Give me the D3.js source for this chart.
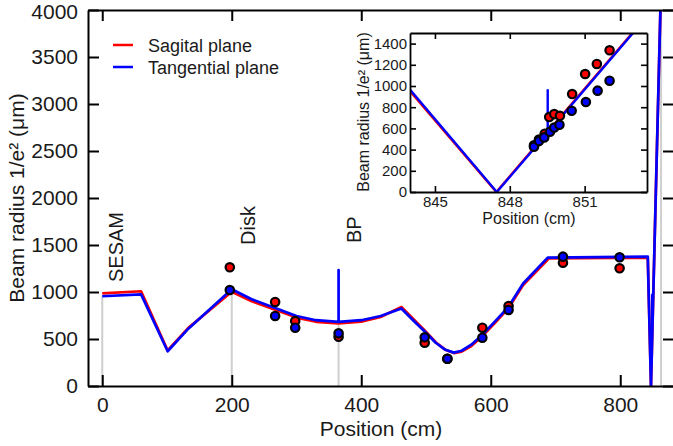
<!DOCTYPE html>
<html><head><meta charset="utf-8">
<script src="https://cdn.jsdelivr.net/npm/d3@7"></script>
<style>
body{margin:0;background:#fff}
text{font-family:"Liberation Sans",Arial,Helvetica,sans-serif;fill:#1a1a1a}
</style>
</head><body>
<svg id="chart" width="673" height="446"></svg>
<script>
// ---------- data ----------
const xTickVals = [0, 200, 400, 600, 800];
const yTickVals = [0, 500, 1000, 1500, 2000, 2500, 3000, 3500, 4000];
const insetXTickVals = [845, 848, 851];
const insetYTickVals = [0, 200, 400, 600, 800, 1000, 1200, 1400];

// Sagittal plane (red) beam radius curve
const sagPos = [0, 60, 101, 133, 200, 230, 267, 300, 330, 365, 400, 430, 462, 480, 498, 515, 530, 543, 555, 570, 587, 607, 627, 650, 690, 842.5, 847.46, 862];
const sagVal = [985, 1008, 378, 618, 1003, 905, 810, 728, 683, 665, 685, 735, 840, 715, 590, 465, 385, 350, 365, 425, 530, 675, 825, 1075, 1358, 1365, 0, 4000];

// Tangential plane (blue) beam radius curve (incl. BP spikes)
const tanPos = [0, 60, 101, 133, 200, 230, 267, 300, 330, 365, 365, 365, 400, 430, 462, 480, 498, 515, 530, 543, 555, 570, 587, 607, 627, 650, 688, 842.5, 847.46, 849.5, 849.5, 849.5, 862];
const tanVal = [955, 975, 370, 610, 1030, 925, 830, 745, 700, 682, 1234, 682, 700, 745, 825, 700, 580, 460, 385, 355, 375, 440, 545, 690, 840, 1090, 1365, 1376, 0, 559, 970, 559, 4000];

// measured points (main)
const ptPos = [197, 267, 298, 365, 498, 533, 587, 627.5, 711.5, 799];
const ptSag = [1263, 894, 691, 525, 461, 290, 620, 851, 1312, 1252];
const ptTan = [1021, 745, 620, 560, 518, 290, 514, 809, 1376, 1369];

// measured points (inset)
const inSagPos = [848.97, 849.17, 849.4, 849.58, 849.78, 850.01, 850.5, 851.02, 851.49, 852.0];
const inSagVal = [440, 495, 550, 707, 735, 719, 924, 1113, 1208, 1337];
const inTanPos = [848.97, 849.17, 849.38, 849.61, 849.78, 849.99, 850.48, 851.05, 851.52, 852.0];
const inTanVal = [428, 480, 515, 568, 608, 634, 766, 849, 956, 1050];

// element markers
const elemNames = ["SESAM", "Disk", "BP"];
const elemPos = [0, 200, 365];
const elemLineTop = [955, 1030, 682];
const farLinePos = 863;

const legendNames = ["Sagital plane", "Tangential plane"];
const colors = ["#ff0000", "#0000ff"];

// ---------- drawing ----------
const svg = d3.select("#chart");
const L = 88, R = 674, T = 10, B = 386;
const fmt = d3.format("d");

const x = d3.scaleLinear().domain([-22, 883]).range([L, R]);
const y = d3.scaleLinear().domain([0, 4000]).range([B, T]);

svg.append("defs").append("clipPath").attr("id", "clipMain")
  .append("rect").attr("x", L).attr("y", T).attr("width", R - L).attr("height", B - T);

const plot = svg.append("g").attr("clip-path", "url(#clipMain)");

// gray element lines
plot.selectAll("line.el").data(elemPos).enter().append("line")
  .attr("x1", d => x(d)).attr("x2", d => x(d))
  .attr("y1", y(0)).attr("y2", (d, i) => y(elemLineTop[i]))
  .attr("stroke", "#cfcfcf").attr("stroke-width", 2);
plot.append("line").attr("x1", x(farLinePos)).attr("x2", x(farLinePos))
  .attr("y1", y(0)).attr("y2", y(4000)).attr("stroke", "#cfcfcf").attr("stroke-width", 2);

const line = d3.line().x(d => x(d[0])).y(d => y(d[1]));
const sagData = sagPos.map((p, i) => [p, sagVal[i]]);
const tanData = tanPos.map((p, i) => [p, tanVal[i]]);

plot.append("path").datum(sagData).attr("d", line)
  .attr("fill", "none").attr("stroke", colors[0]).attr("stroke-width", 2.7).attr("stroke-linejoin", "round");
plot.append("path").datum(tanData).attr("d", line)
  .attr("fill", "none").attr("stroke", colors[1]).attr("stroke-width", 2.7).attr("stroke-linejoin", "round");

// points
plot.selectAll("circle.s").data(ptPos).enter().append("circle")
  .attr("cx", d => x(d)).attr("cy", (d, i) => y(ptSag[i])).attr("r", 4.2)
  .attr("fill", colors[0]).attr("stroke", "#000").attr("stroke-width", 2.2);
plot.selectAll("circle.t").data(ptPos).enter().append("circle")
  .attr("cx", d => x(d)).attr("cy", (d, i) => y(ptTan[i])).attr("r", 4.2)
  .attr("fill", colors[1]).attr("stroke", "#000").attr("stroke-width", 2.2);

// element labels
const labOffX = [21, 23, 22];
const labBottom = [282, 245, 243];
elemNames.forEach((n, i) => {
  const lx = x(elemPos[i]) + labOffX[i];
  svg.append("text").attr("transform", `translate(${lx},${labBottom[i]}) rotate(-90)`)
    .attr("font-size", 20).text(n);
});

// axes
function styleAxis(g) {
  g.selectAll("path.domain").attr("stroke", "#000").attr("stroke-width", 2);
  g.selectAll(".tick line").attr("stroke", "#000").attr("stroke-width", 2);
  g.selectAll("text").attr("font-family", '"Liberation Sans",Arial,sans-serif').attr("fill", "#1a1a1a");
}
const gx = svg.append("g").attr("transform", `translate(0,${B})`)
  .call(d3.axisBottom(x).tickValues(xTickVals).tickFormat(fmt).tickSizeInner(-11).tickSizeOuter(0).tickPadding(11));
gx.selectAll("text").attr("font-size", 21);
styleAxis(gx);
const gxt = svg.append("g").attr("transform", `translate(0,${T})`)
  .call(d3.axisTop(x).tickValues(xTickVals).tickSizeInner(-11).tickSizeOuter(0).tickFormat(""));
styleAxis(gxt);
const gy = svg.append("g").attr("transform", `translate(${L},0)`)
  .call(d3.axisLeft(y).tickValues(yTickVals).tickFormat(fmt).tickSizeInner(-11).tickSizeOuter(0).tickPadding(10));
gy.selectAll("text").attr("font-size", 21);
// keep the topmost label inside the canvas
gy.selectAll(".tick text").filter(d => d === 4000).attr("dy", "0.42em");
styleAxis(gy);
const gyr = svg.append("g").attr("transform", `translate(${R},0)`)
  .call(d3.axisRight(y).tickValues(yTickVals).tickSizeInner(-11).tickSizeOuter(0).tickFormat(""));
styleAxis(gyr);

svg.append("text").attr("x", 381).attr("y", 436).attr("text-anchor", "middle")
  .attr("font-size", 21).text("Position (cm)");
svg.append("text").attr("transform", `translate(24,198) rotate(-90)`).attr("text-anchor", "middle")
  .attr("font-size", 21).text("Beam radius 1/e² (μm)");

// legend
legendNames.forEach((n, i) => {
  const ly = 45 + i * 22;
  svg.append("line").attr("x1", 113).attr("x2", 133).attr("y1", ly).attr("y2", ly)
    .attr("stroke", colors[i]).attr("stroke-width", 2.5);
  svg.append("text").attr("x", 148).attr("y", ly + 6.5).attr("font-size", 18).text(n);
});

// ---------- inset ----------
const iL = 410, iR = 647, iT = 33, iB = 192;
const xi = d3.scaleLinear().domain([844, 853.5]).range([iL, iR]);
const yi = d3.scaleLinear().domain([0, 1500]).range([iB, iT]);

svg.append("rect").attr("x", iL).attr("y", iT).attr("width", iR - iL).attr("height", iB - iT).attr("fill", "#fff");
svg.select("defs").append("clipPath").attr("id", "clipInset")
  .append("rect").attr("x", iL).attr("y", iT).attr("width", iR - iL).attr("height", iB - iT);
const ip = svg.append("g").attr("clip-path", "url(#clipInset)");
const iline = d3.line().x(d => xi(d[0])).y(d => yi(d[1]));
ip.append("path").datum(sagData).attr("d", iline)
  .attr("fill", "none").attr("stroke", colors[0]).attr("stroke-width", 2.4);
ip.append("path").datum(tanData.map(d => [d[0] + 0.02, d[1]])).attr("d", iline)
  .attr("fill", "none").attr("stroke", colors[1]).attr("stroke-width", 2.4);
ip.selectAll("circle.s").data(inSagPos).enter().append("circle")
  .attr("cx", d => xi(d)).attr("cy", (d, i) => yi(inSagVal[i])).attr("r", 4.2)
  .attr("fill", colors[0]).attr("stroke", "#000").attr("stroke-width", 2.2);
ip.selectAll("circle.t").data(inTanPos).enter().append("circle")
  .attr("cx", d => xi(d)).attr("cy", (d, i) => yi(inTanVal[i])).attr("r", 4.2)
  .attr("fill", colors[1]).attr("stroke", "#000").attr("stroke-width", 2.2);

function styleInset(g) {
  g.selectAll("path.domain").attr("stroke", "#000").attr("stroke-width", 1.8);
  g.selectAll(".tick line").attr("stroke", "#000").attr("stroke-width", 1.6);
  g.selectAll("text").attr("font-size", 15).attr("font-family", '"Liberation Sans",Arial,sans-serif').attr("fill", "#1a1a1a");
}
const ix = svg.append("g").attr("transform", `translate(0,${iB})`)
  .call(d3.axisBottom(xi).tickValues(insetXTickVals).tickFormat(fmt).tickSizeInner(-6).tickSizeOuter(0).tickPadding(4));
styleInset(ix);
const ixt = svg.append("g").attr("transform", `translate(0,${iT})`)
  .call(d3.axisTop(xi).tickValues(insetXTickVals).tickSizeInner(-6).tickSizeOuter(0).tickFormat(""));
styleInset(ixt);
const iy = svg.append("g").attr("transform", `translate(${iL},0)`)
  .call(d3.axisLeft(yi).tickValues(insetYTickVals).tickFormat(fmt).tickSizeInner(-6).tickSizeOuter(0).tickPadding(3));
styleInset(iy);
const iyr = svg.append("g").attr("transform", `translate(${iR},0)`)
  .call(d3.axisRight(yi).tickValues(insetYTickVals).tickSizeInner(-6).tickSizeOuter(0).tickFormat(""));
styleInset(iyr);

svg.append("text").attr("x", 529).attr("y", 224).attr("text-anchor", "middle")
  .attr("font-size", 16).text("Position (cm)");
svg.append("text").attr("transform", `translate(369,112) rotate(-90)`).attr("text-anchor", "middle")
  .attr("font-size", 16).text("Beam radius 1/e² (μm)");
</script>
</body></html>
